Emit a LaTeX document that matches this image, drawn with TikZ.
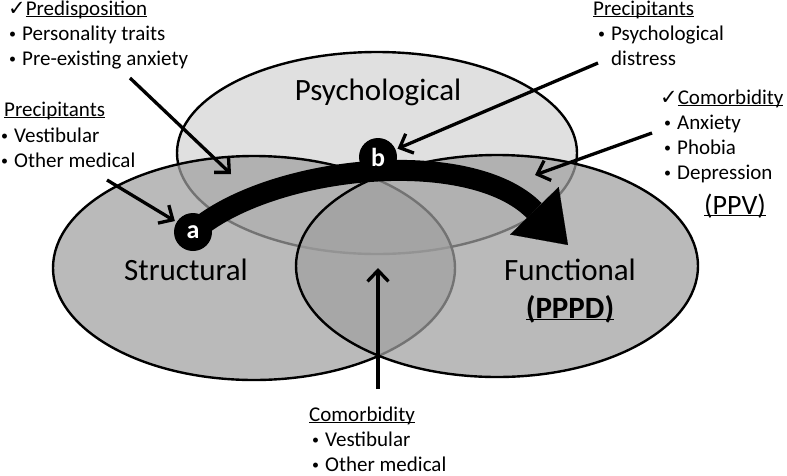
\documentclass[tikz,border=0pt]{standalone}
\usepackage{fontspec}
\setmainfont{Carlito}
\newfontfamily\symfont{DejaVu Sans}
\usetikzlibrary{arrows.meta}
\definecolor{psychgrey}{RGB}{224,224,224}
\definecolor{setgrey}{RGB}{160,160,160}
\newcommand{\chk}{{\symfont ✓}}
\newcommand{\bul}{\makebox[13pt][l]{\raisebox{1.8pt}{\fontsize{14}{14}\selectfont\textbullet}}}
\newcommand{\uln}[1]{\setbox0\hbox{#1}\rlap{\rule[-2.4pt]{\wd0}{1.1pt}}\box0}

\begin{document}
\begin{tikzpicture}[x=1pt, y=-1pt,
    every node/.style={inner sep=0pt, font=\fontsize{21}{25}\selectfont},
    lbl/.style={anchor=base west},
    title/.style={anchor=base, font=\fontsize{31}{34}\selectfont},
    ring/.style={line width=2.4pt},
    badge/.style={circle, fill=black, text=white, minimum size=38pt, font=\fontsize{26}{26}\selectfont\bfseries},
    pointer/.style={line width=3.3pt, -{Straight Barb[length=11pt, width=21pt]}}]
  \useasboundingbox (0,0) rectangle (787,475);

  % the three sets
  \fill[psychgrey] (377,153) ellipse (200 and 101);
  \draw[ring] (377,153) ellipse (200 and 101);
  \filldraw[ring, fill=setgrey, fill opacity=0.72] (254,268) ellipse (201 and 112);
  \filldraw[ring, fill=setgrey, fill opacity=0.72] (497,266) ellipse (201 and 111);

  \node[title] (psy) at (378,100) {Psychological};
  \node[title] (stru) at (186,280) {Structural};
  \node[title] (func) at (570,280) {Functional};
  \node[title, font=\fontsize{31}{34}\selectfont\bfseries] (pppd) at (570,318) {\uln{(PPPD)}};

  % path from a over b into the functional set
  \coordinate (astart) at (193,232);
  \coordinate (tip) at (568,245);
  \draw[line width=21pt, -{Triangle[length=48pt, width=68pt, line width=0.1pt]}]
    (astart) .. controls (270,165) and (470,145) .. (tip);
  \node[badge] (a) at (astart) {a};
  \node[badge] (b) at (378,157) {b};

  % text blocks
  \node[lbl] (predis) at (8,15) {\chk\uln{Predisposition}};
  \node[lbl] (traits) at (9,40) {\bul Personality traits};
  \node[lbl] (preanx) at (9,65) {\bul Pre-existing anxiety};

  \node[lbl] (precl) at (4,116) {\uln{Precipitants}};
  \node[lbl] (vestl) at (1,142) {\bul Vestibular};
  \node[lbl] (medl) at (1,167) {\bul Other medical};

  \node[lbl] (precr) at (593,15) {\uln{Precipitants}};
  \node[lbl] (distr) at (598,40) {\bul Psychological};
  \node[lbl] (distr2) at (611,65) {distress};

  \node[lbl] (comr) at (660,104) {\chk\uln{Comorbidity}};
  \node[lbl] (anxr) at (664,129) {\bul Anxiety};
  \node[lbl] (phob) at (664,154) {\bul Phobia};
  \node[lbl] (depr) at (664,179) {\bul Depression};
  \node[anchor=base, font=\fontsize{28}{30}\selectfont] (ppv) at (735,214) {\uln{(PPV)}};

  \node[lbl] (comb) at (309,421) {\uln{Comorbidity}};
  \node[lbl] (vestb) at (312,446) {\bul Vestibular};
  \node[lbl] (medb) at (312,471) {\bul Other medical};

  % pointers
  \coordinate (s1) at (107,180);
  \draw[pointer, shorten >=2pt] (s1) -- (a);
  \coordinate (s2) at (130,78);
  \coordinate (e2) at (231,174);
  \draw[pointer] (s2) -- (e2);
  \coordinate (s3) at (598,63);
  \draw[pointer, shorten >=2pt] (s3) -- (b);
  \coordinate (s4) at (652,133);
  \coordinate (e4) at (535,175);
  \draw[pointer] (s4) -- (e4);
  \coordinate (s5) at (378,389);
  \coordinate (e5) at (378,268);
  \draw[pointer] (s5) -- (e5);
\end{tikzpicture}
\end{document}
